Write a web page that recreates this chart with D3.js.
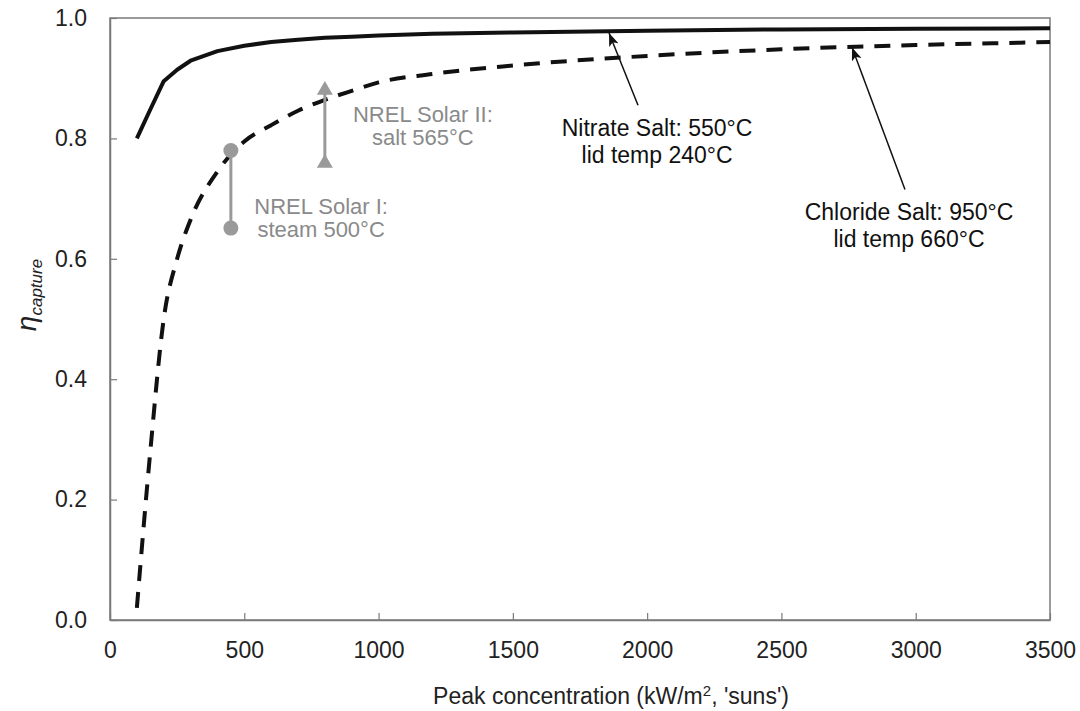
<!DOCTYPE html>
<html>
<head>
<meta charset="utf-8">
<script src="https://cdn.jsdelivr.net/npm/d3@7"></script>
<style>
  body { margin: 0; background: #fff; }
  svg { font-family: "Liberation Sans", Arial, sans-serif; }
</style>
</head>
<body>
<svg id="chart" width="1080" height="711"></svg>
<script>
// concentration (suns)
const conc = [100, 150, 200, 250, 300, 400, 500, 600, 700, 800, 900, 1000, 1200, 1500, 2000, 2500, 3000, 3500];
// nitrate salt, solid line
const nitrate = [0.80, 0.848, 0.895, 0.914, 0.929, 0.945, 0.954, 0.960, 0.964, 0.967, 0.969, 0.971, 0.974, 0.976, 0.979, 0.981, 0.982, 0.983];
// chloride salt, dashed line
const chloride = [0.02, 0.28, 0.50, 0.60, 0.665, 0.745, 0.795, 0.822, 0.846, 0.864, 0.879, 0.893, 0.907, 0.921, 0.937, 0.948, 0.955, 0.960];

const xTicks = [0, 500, 1000, 1500, 2000, 2500, 3000, 3500];
const yTicks = [0, 0.2, 0.4, 0.6, 0.8, 1.0];

// NREL reference plants: [conc, low, high]
const solar1 = [450, 0.651, 0.78];
const solar2 = [800, 0.759, 0.88];

// annotation arrows: tip -> tail, in data units
const arrows = [
    { tip: [1858, 0.975], tail: [1966, 0.855] },
    { tip: [2763, 0.951], tail: [2960, 0.715] }
];
const labels = [
    { x: 2037, y: 0.804, lines: ['Nitrate Salt: 550°C', 'lid temp 240°C'], color: '#111', size: 23, gap: 27 },
    { x: 2975, y: 0.664, lines: ['Chloride Salt: 950°C', 'lid temp 660°C'], color: '#111', size: 23, gap: 27 },
    { x: 1165, y: 0.828, lines: ['NREL Solar II:', 'salt 565°C'], color: '#8a8a8a', size: 22, gap: 23 },
    { x: 786, y: 0.675, lines: ['NREL Solar I:', 'steam 500°C'], color: '#8a8a8a', size: 22, gap: 23 }
];

const m = { left: 110, right: 1050, top: 18, bottom: 620 };
const svg = d3.select('#chart');

const x = d3.scaleLinear().domain([0, 3500]).range([m.left, m.right]);
const y = d3.scaleLinear().domain([0, 1]).range([m.bottom, m.top]);

const defs = svg.append('defs');
defs.append('marker')
    .attr('id', 'head')
    .attr('viewBox', '0 0 13 10')
    .attr('refX', 13).attr('refY', 5)
    .attr('markerWidth', 13).attr('markerHeight', 10)
    .attr('markerUnits', 'userSpaceOnUse')
    .attr('orient', 'auto')
    .append('path')
    .attr('d', 'M0,0 L13,5 L0,10 L3,5 Z')
    .attr('fill', '#111');

// frame
svg.append('rect')
    .attr('x', m.left).attr('y', m.top)
    .attr('width', m.right - m.left).attr('height', m.bottom - m.top)
    .attr('fill', 'none')
    .attr('stroke', '#7a7a7a')
    .attr('stroke-width', 1.5);

// axes, ticks inside
const xAxis = svg.append('g')
    .attr('transform', `translate(0,${m.bottom})`)
    .call(d3.axisBottom(x).tickValues(xTicks).tickSizeInner(-7).tickSizeOuter(0).tickPadding(22).tickFormat(d3.format('d')));
const yAxis = svg.append('g')
    .attr('transform', `translate(${m.left},0)`)
    .call(d3.axisLeft(y).tickValues(yTicks).tickSizeInner(-7).tickSizeOuter(0).tickPadding(23).tickFormat(d3.format('.1f')));

[xAxis, yAxis].forEach(a => {
    a.select('.domain').attr('stroke', '#7a7a7a').attr('stroke-width', 1.5);
    a.selectAll('.tick line').attr('stroke', '#7a7a7a').attr('stroke-width', 1.2);
    a.selectAll('.tick text')
        .attr('fill', '#222')
        .style('font-size', '23px')
        .style('font-family', '"Liberation Sans", Arial, sans-serif');
});

// axis titles
const xt = svg.append('text')
    .attr('x', 611).attr('y', 704)
    .attr('text-anchor', 'middle')
    .attr('fill', '#222')
    .style('font-size', '23px');
xt.append('tspan').text('Peak concentration (kW/m');
xt.append('tspan').text('2').style('font-size', '15px').attr('dy', -8);
xt.append('tspan').text(", 'suns')").attr('dy', 8);

const yt = svg.append('text')
    .attr('transform', 'translate(36,295) rotate(-90)')
    .attr('text-anchor', 'middle')
    .attr('fill', '#222')
    .style('font-style', 'italic');
yt.append('tspan').text('η').style('font-size', '28px');
yt.append('tspan').text('capture').style('font-size', '17px').attr('dy', 6);

// curves
const line = curve => d3.line()
    .x((d, i) => x(conc[i]))
    .y(d => y(d))
    .curve(curve);

svg.append('path')
    .datum(chloride)
    .attr('d', line(d3.curveMonotoneX))
    .attr('fill', 'none')
    .attr('stroke', '#111')
    .attr('stroke-width', 4)
    .attr('stroke-dasharray', '16,11');

svg.append('path')
    .datum(nitrate)
    .attr('d', line(d3.curveLinear))
    .attr('fill', 'none')
    .attr('stroke', '#111')
    .attr('stroke-width', 4)
    .attr('stroke-linejoin', 'round');

// NREL Solar I: circles joined by a bar
const grey = '#9a9a9a';
svg.append('line')
    .attr('x1', x(solar1[0])).attr('x2', x(solar1[0]))
    .attr('y1', y(solar1[1])).attr('y2', y(solar1[2]))
    .attr('stroke', grey).attr('stroke-width', 3);
svg.selectAll('.s1')
    .data([solar1[1], solar1[2]])
    .enter().append('circle')
    .attr('cx', x(solar1[0]))
    .attr('cy', d => y(d))
    .attr('r', 7.5)
    .attr('fill', grey);

// NREL Solar II: triangles joined by a bar
svg.append('line')
    .attr('x1', x(solar2[0])).attr('x2', x(solar2[0]))
    .attr('y1', y(solar2[1])).attr('y2', y(solar2[2]))
    .attr('stroke', grey).attr('stroke-width', 3);
svg.selectAll('.s2')
    .data([solar2[1], solar2[2]])
    .enter().append('path')
    .attr('d', d3.symbol().type(d3.symbolTriangle).size(110))
    .attr('transform', d => `translate(${x(solar2[0])},${y(d)})`)
    .attr('fill', grey);

// arrows
svg.selectAll('.arrow')
    .data(arrows)
    .enter().append('line')
    .attr('x1', d => x(d.tail[0])).attr('y1', d => y(d.tail[1]))
    .attr('x2', d => x(d.tip[0])).attr('y2', d => y(d.tip[1]))
    .attr('stroke', '#111')
    .attr('stroke-width', 1.5)
    .attr('marker-end', 'url(#head)');

// labels
labels.forEach(l => {
    const t = svg.append('text')
        .attr('text-anchor', 'middle')
        .attr('fill', l.color)
        .style('font-size', l.size + 'px');
    l.lines.forEach((s, i) => {
        t.append('tspan')
            .attr('x', x(l.x))
            .attr('y', y(l.y) + i * l.gap)
            .text(s);
    });
});
</script>
</body>
</html>
